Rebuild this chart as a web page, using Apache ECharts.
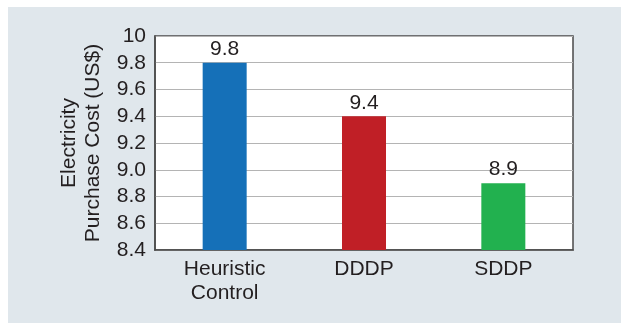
<!DOCTYPE html>
<html>
<head>
<meta charset="utf-8">
<script src="https://cdn.jsdelivr.net/npm/echarts@6/dist/echarts.min.js"></script>
<style>
  html, body { margin: 0; padding: 0; background: #ffffff; }
  #frame { position: absolute; left: 8px; top: 7px; width: 613px; height: 316px; background: #e0e7ec; }
  #chart { position: absolute; left: 0; top: 0; width: 621px; height: 323px; }
</style>
</head>
<body>
<div id="frame"></div>
<div id="chart"></div>
<script>
// Electricity purchase cost per control strategy
const categories = ['Heuristic\nControl', 'DDDP', 'SDDP'];
const costValues = [9.8, 9.4, 8.9];
const barColors = ['#1570b8', '#c01f26', '#22b14f'];
const yTicks = { min: 8.4, max: 10, interval: 0.2 };

const textColor = '#231f20';
const fontFamily = '"Liberation Sans", Arial, Helvetica, sans-serif';
const fontSize = 21;

const chart = echarts.init(document.getElementById('chart'));
chart.setOption({
  backgroundColor: 'transparent',
  textStyle: { fontFamily: fontFamily },
  grid: {
    left: 155, top: 36, right: 48, bottom: 73,
    show: true,
    backgroundColor: '#ffffff',
    borderColor: '#4a4a4a',
    borderWidth: 1.5
  },
  xAxis: {
    type: 'category',
    data: categories,
    axisLine: { show: true, lineStyle: { color: '#4a4a4a', width: 1.5 } },
    axisTick: { show: false },
    axisLabel: {
      color: textColor, fontSize: fontSize, fontFamily: fontFamily,
      margin: 7, lineHeight: 24
    }
  },
  yAxis: {
    type: 'value',
    min: yTicks.min, max: yTicks.max, interval: yTicks.interval,
    name: 'Electricity\nPurchase Cost (US$)',
    nameLocation: 'middle',
    nameRotate: 90,
    nameGap: 50,
    nameTextStyle: { color: textColor, fontSize: fontSize, fontFamily: fontFamily, lineHeight: 24 },
    axisLine: { show: true, lineStyle: { color: '#4a4a4a', width: 1.5 } },
    axisTick: { show: false },
    splitLine: { show: true, lineStyle: { color: '#b4b4b4', width: 1 } },
    axisLabel: {
      color: textColor, fontSize: fontSize, fontFamily: fontFamily, margin: 9,
      formatter: v => (Math.abs(v - 10) < 1e-9 ? '10' : v.toFixed(1))
    }
  },
  series: [{
    type: 'bar',
    data: costValues.map((v, i) => ({ value: v, itemStyle: { color: barColors[i] } })),
    barWidth: 44,
    label: {
      show: true, position: 'top', distance: 3,
      color: textColor, fontSize: fontSize, fontFamily: fontFamily,
      formatter: p => p.value.toFixed(1)
    }
  }]
});
</script>
</body>
</html>
